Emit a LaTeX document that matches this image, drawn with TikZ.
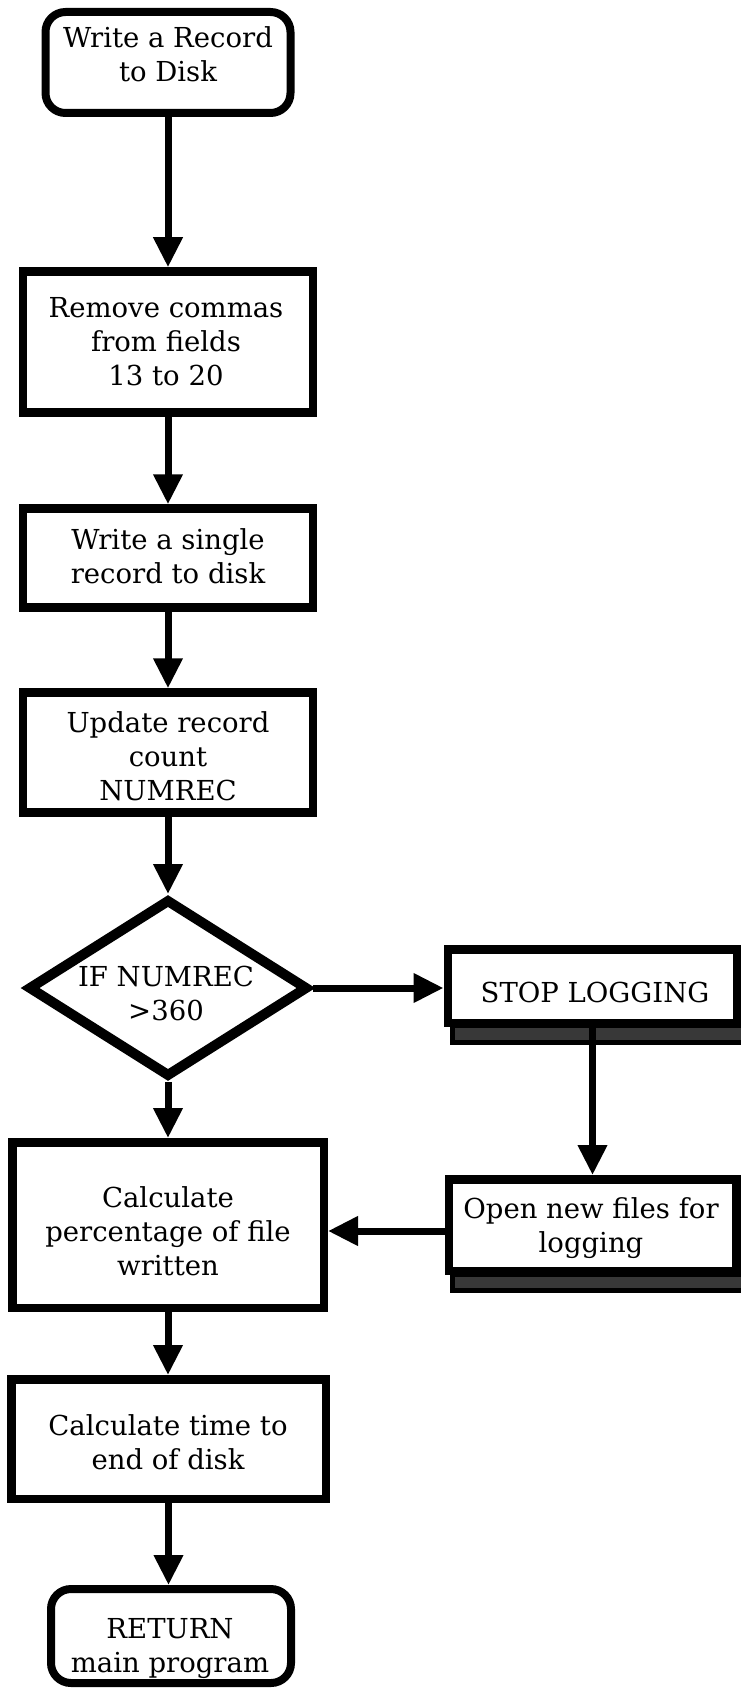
\documentclass[tikz,border=0pt]{standalone}
\usepackage{fontspec}
\setmainfont{DejaVu Serif}
\usetikzlibrary{arrows.meta,shapes.geometric}
\newcommand\TS{\rule{0pt}{22pt}}
\newcommand\BS{\rule[-8pt]{0pt}{8pt}}
\begin{document}
\begin{tikzpicture}[x=1pt,y=-1pt,
  lbl/.style={font=\fontsize{27.5}{34}\selectfont, align=center, inner sep=0pt},
  procbox/.style={draw, fill=white, rectangle, line width=8.5pt, inner sep=0pt},
  termbox/.style={draw, fill=white, rectangle, rounded corners=20pt, line width=8pt, inner sep=0pt},
  decbox/.style={draw, fill=white, diamond, line width=10pt, inner sep=0pt},
  band/.style={fill=black!78, draw=black, line width=5pt},
  flow/.style={line width=7pt, -{Triangle[width=28pt,length=30pt]}}]
\useasboundingbox (0,0) rectangle (741,1688);

% left column
\node[termbox, minimum width=245pt, minimum height=101pt] (start) at (168,62.5) {};
\node[lbl] (startT) at (168,58) {\TS Write a Record\\to Disk\BS};

\node[procbox, minimum width=290pt, minimum height=141pt] (rm) at (168,342) {};
\node[lbl] (rmT) at (166,344) {\TS Remove commas\\from fields\\13 to 20\BS};

\node[procbox, minimum width=290pt, minimum height=99pt] (ws) at (168,558) {};
\node[lbl] (wsT) at (168,559) {\TS Write a single\\record to disk\BS};

\node[procbox, minimum width=290pt, minimum height=120pt] (up) at (168,752.5) {};
\node[lbl] (upT) at (168,759) {\TS Update record\\count\\NUMREC\BS};

\node[decbox, minimum width=280pt, minimum height=178pt] (dec) at (168,988) {};
\node[lbl] (decT) at (166,996) {\TS IF NUMREC\\>360\BS};

% right column with shadow bands
\path[band] (452,1025.5) rectangle (746,1042.5);
\node[procbox, minimum width=289.5pt, minimum height=73.5pt] (stop) at (592.5,986) {};
\node[lbl] (stopT) at (595,995) {\TS STOP LOGGING\BS};

\path[band] (452,1274.5) rectangle (746,1290.5);
\node[procbox, minimum width=287.5pt, minimum height=91.5pt] (open) at (592.5,1225) {};
\node[lbl] (openT) at (591,1228) {\TS Open new files for\\logging\BS};

\node[procbox, minimum width=311.5pt, minimum height=165.5pt] (pct) at (168,1225) {};
\node[lbl] (pctT) at (168,1234) {\TS Calculate\\percentage of file\\written\BS};

\node[procbox, minimum width=314.5pt, minimum height=119.5pt] (time) at (168.5,1439) {};
\node[lbl] (timeT) at (168,1445) {\TS Calculate time to\\end of disk\BS};

\node[termbox, minimum width=240pt, minimum height=94pt] (ret) at (171,1636) {};
\node[lbl] (retT) at (170,1648) {\TS RETURN\\main program\BS};

% connectors
\draw[flow] (start.south) -- (rm.north);
\draw[flow] (rm) -- (ws);
\draw[flow] (ws) -- (up);
\draw[flow] (up) -- (dec);
\draw[flow] (dec.east) -- (dec.east -| stop.west);
\draw[flow] (dec) -- (pct);
\draw[flow] (stop.south) -- (open.north);
\draw[flow] ([yshift=-6pt]open.west) -- ([yshift=-6pt]open.west -| pct.east);
\draw[flow] (pct.south) -- (pct.south |- time.north);
\draw[flow] (time.south) -- (time.south |- ret.north);
\end{tikzpicture}
\end{document}
